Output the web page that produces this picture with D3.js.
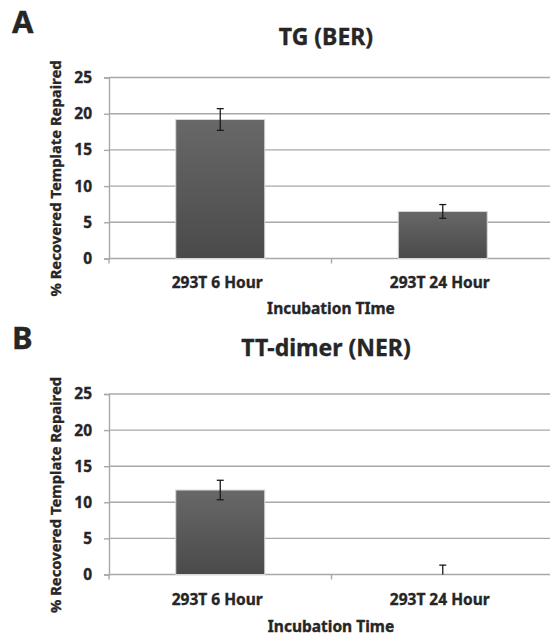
<!DOCTYPE html>
<html>
<head>
<meta charset="utf-8">
<script src="https://cdn.jsdelivr.net/npm/d3@7"></script>
<style>
  body { margin: 0; background: #fff; }
  text { font-family: "Noto Sans", "Open Sans", sans-serif; font-weight: bold; fill: #262626; stroke: #262626; stroke-width: 0.35px; }
</style>
</head>
<body>
<div id="vis"></div>
<script>
// data
const categories = ["293T 6 Hour", "293T 24 Hour"];
const tgValues = [19.2, 6.5];
const tgErrors = [1.5, 0.95];
const ttValues = [11.7, 0];
const ttErrors = [1.35, 1.3];
const yTicks = [0, 5, 10, 15, 20, 25];

const W = 550, H = 640;
const svg = d3.select("#vis").append("svg")
	.attr("width", W)
	.attr("height", H);

const defs = svg.append("defs");
const grad = defs.append("linearGradient")
	.attr("id", "barGrad")
	.attr("x1", 0).attr("y1", 0).attr("x2", 0).attr("y2", 1);
grad.append("stop").attr("offset", "0%").attr("stop-color", "#686868");
grad.append("stop").attr("offset", "100%").attr("stop-color", "#4a4a4a");

const x = d3.scaleBand().domain(categories).range([109, 554]).padding(0);
const barW = x.bandwidth() * 0.4;

const drawPanel = (cfg) => {
	const { letter, title, xTitle, values, errors } = cfg;
	const y = d3.scaleLinear().domain([0, 25]).range([cfg.y0, cfg.y25]);
	const g = svg.append("g");

	// gridlines
	g.selectAll("line.grid")
		.data(yTicks.filter(t => t > 0))
		.enter()
		.append("line")
		.attr("x1", 109).attr("x2", W)
		.attr("y1", d => y(d)).attr("y2", d => y(d))
		.attr("stroke", "#a8a8a8")
		.attr("stroke-width", 1.4);

	// y axis
	const yAxis = g.append("g")
		.attr("transform", "translate(109,0)")
		.call(d3.axisLeft(y).tickValues(yTicks).tickSize(5).tickPadding(12));
	yAxis.attr("font-family", null).attr("font-size", null);
	yAxis.select(".domain").attr("stroke", "#a8a8a8").attr("stroke-width", 1.4);
	yAxis.selectAll(".tick line").attr("stroke", "#a8a8a8").attr("stroke-width", 1.4);
	yAxis.selectAll(".tick text")
		.attr("font-size", 15.5)
		.attr("fill", "#262626");

	// x axis line
	const xAxis = g.append("g")
		.attr("transform", `translate(0,${cfg.y0})`)
		.call(d3.axisBottom(x).tickSize(0).tickFormat(""));
	xAxis.select(".domain")
		.attr("d", `M109,0H${W}`)
		.attr("stroke", "#a8a8a8")
		.attr("stroke-width", 1.4);
	xAxis.selectAll(".tick").remove();
	g.selectAll("line.xtick")
		.data([109, x(categories[1]), 554])
		.enter()
		.append("line")
		.attr("x1", d => d).attr("x2", d => d)
		.attr("y1", cfg.y0).attr("y2", cfg.y0 + 5)
		.attr("stroke", "#a8a8a8")
		.attr("stroke-width", 1.4);

	// bars
	const cx = d => x(d) + x.bandwidth() / 2;
	g.selectAll("rect.bar")
		.data(categories)
		.enter()
		.append("rect")
		.attr("x", d => cx(d) - barW / 2)
		.attr("width", barW)
		.attr("y", (d, i) => y(values[i]))
		.attr("height", (d, i) => y(0) - y(values[i]))
		.attr("fill", "url(#barGrad)")
		.attr("stroke", "#d8d8d8")
		.attr("stroke-width", (d, i) => values[i] > 0 ? 1 : 0);

	// error bars
	const hi = i => y(values[i] + errors[i]);
	const lo = i => y(Math.max(0, values[i] - errors[i]));
	const eb = g.selectAll("g.err")
		.data(categories)
		.enter()
		.append("g")
		.attr("stroke", "#1a1a1a")
		.attr("stroke-width", 1.3);
	eb.append("line")
		.attr("x1", cx).attr("x2", cx)
		.attr("y1", (d, i) => hi(i))
		.attr("y2", (d, i) => lo(i));
	eb.append("line")
		.attr("x1", d => cx(d) - 3.5).attr("x2", d => cx(d) + 3.5)
		.attr("y1", (d, i) => hi(i))
		.attr("y2", (d, i) => hi(i));
	eb.append("line")
		.attr("x1", d => cx(d) - 3.5).attr("x2", d => cx(d) + 3.5)
		.attr("y1", (d, i) => lo(i))
		.attr("y2", (d, i) => lo(i))
		.attr("stroke-width", (d, i) => values[i] - errors[i] > 0 ? 1.3 : 0);

	// category labels
	g.selectAll("text.cat")
		.data(categories)
		.enter()
		.append("text")
		.attr("x", d => cx(d) - 3)
		.attr("y", cfg.catY)
		.attr("text-anchor", "middle")
		.attr("font-size", 15.5)
		.text(d => d);

	// titles
	g.append("text")
		.attr("x", 331).attr("y", cfg.xTitleY)
		.attr("text-anchor", "middle")
		.attr("font-size", 15.5)
		.text(xTitle);
	g.append("text")
		.attr("transform", `translate(61,${cfg.yTitleCY}) rotate(-90)`)
		.attr("text-anchor", "middle")
		.attr("font-size", 14.8)
		.text("% Recovered Template Repaired");
	g.append("text")
		.attr("x", 326).attr("y", cfg.titleY)
		.attr("text-anchor", "middle")
		.attr("font-size", 23)
		.text(title);
	g.append("text")
		.attr("x", 12).attr("y", cfg.letterY)
		.attr("font-size", 31)
		.text(letter);
};

drawPanel({
	letter: "A", title: "TG (BER)", xTitle: "Incubation TIme",
	values: tgValues, errors: tgErrors,
	y0: 258.5, y25: 77.5, titleY: 45, catY: 287.5, xTitleY: 313.5, yTitleCY: 178.5, letterY: 33
});
drawPanel({
	letter: "B", title: "TT-dimer (NER)", xTitle: "Incubation Time",
	values: ttValues, errors: ttErrors,
	y0: 574.5, y25: 394, titleY: 356, catY: 605, xTitleY: 632, yTitleCY: 495, letterY: 348.5
});
</script>
</body>
</html>
